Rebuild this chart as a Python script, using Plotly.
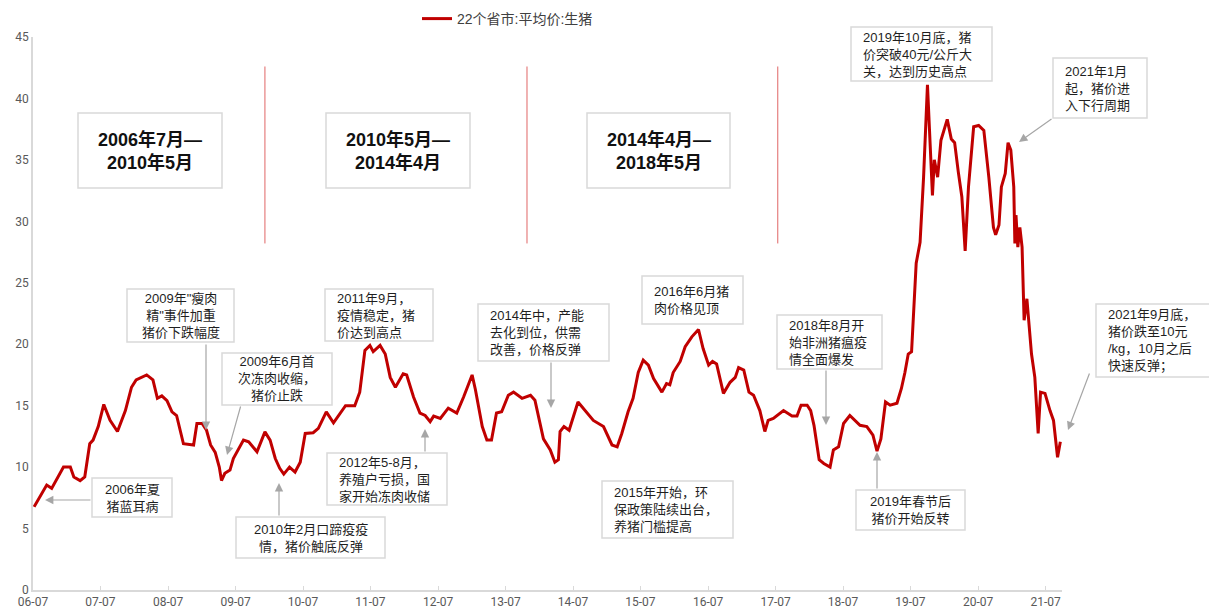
import plotly.graph_objects as go

# 22个省市:平均价:生猪 (元/公斤)
dates = [
    "2006-07-07", "2006-09-13", "2006-10-10", "2006-11-07", "2006-12-13", "2007-01-19", "2007-02-07",
    "2007-03-13", "2007-04-07", "2007-05-04", "2007-05-22", "2007-06-19", "2007-07-19", "2007-08-22",
    "2007-10-01", "2007-11-13", "2007-12-16", "2008-01-10", "2008-03-07", "2008-04-10", "2008-05-04",
    "2008-05-28", "2008-06-25", "2008-07-22", "2008-08-16", "2008-09-22", "2008-10-28", "2008-11-16",
    "2008-12-04", "2009-01-01", "2009-01-25", "2009-02-16", "2009-03-13", "2009-04-04", "2009-04-16",
    "2009-05-04", "2009-06-01", "2009-06-19", "2009-08-13", "2009-09-10", "2009-10-25", "2009-12-07",
    "2010-01-04", "2010-02-01", "2010-02-25", "2010-03-19", "2010-04-19", "2010-05-19", "2010-06-16",
    "2010-07-13", "2010-08-25", "2010-09-22", "2010-11-04", "2010-12-13", "2011-02-16", "2011-04-07",
    "2011-05-04", "2011-06-01", "2011-06-28", "2011-07-16", "2011-08-22", "2011-09-19", "2011-10-16",
    "2011-11-13", "2011-12-25", "2012-01-13", "2012-02-19", "2012-03-25", "2012-04-22", "2012-05-19",
    "2012-06-07", "2012-07-13", "2012-08-25", "2012-10-10", "2012-11-16", "2012-12-13", "2013-01-01",
    "2013-01-19", "2013-02-25", "2013-03-22", "2013-04-16", "2013-05-13", "2013-06-10", "2013-07-16",
    "2013-08-13", "2013-09-28", "2013-11-13", "2013-12-07", "2013-12-22", "2014-01-22", "2014-02-28",
    "2014-03-25", "2014-04-13", "2014-04-22", "2014-05-13", "2014-06-10", "2014-07-28", "2014-09-04",
    "2014-10-19", "2014-12-13", "2015-01-28", "2015-02-25", "2015-03-22", "2015-04-25", "2015-05-22",
    "2015-06-19", "2015-07-16", "2015-08-13", "2015-09-10", "2015-10-25", "2015-11-19", "2015-12-07",
    "2015-12-25", "2016-02-01", "2016-02-28", "2016-04-04", "2016-05-10", "2016-06-04", "2016-07-04",
    "2016-07-25", "2016-08-16", "2016-09-22", "2016-10-28", "2016-11-25", "2016-12-13", "2017-01-10",
    "2017-02-07", "2017-03-04", "2017-04-07", "2017-05-04", "2017-05-22", "2017-06-19", "2017-08-13",
    "2017-09-28", "2017-10-25", "2017-11-16", "2017-12-19", "2018-01-07", "2018-01-25", "2018-02-22",
    "2018-03-19", "2018-04-22", "2018-05-10", "2018-06-07", "2018-07-04", "2018-08-07", "2018-10-01",
    "2018-11-07", "2018-12-10", "2019-01-01", "2019-01-22", "2019-02-16", "2019-03-13", "2019-04-19",
    "2019-05-13", "2019-06-01", "2019-06-19", "2019-07-07", "2019-08-01", "2019-08-22", "2019-09-10",
    "2019-10-01", "2019-10-16", "2019-10-28", "2019-11-07", "2019-11-25", "2019-12-13", "2020-01-16",
    "2020-02-07", "2020-02-25", "2020-03-16", "2020-04-04", "2020-04-22", "2020-05-10", "2020-06-07",
    "2020-07-04", "2020-08-01", "2020-08-28", "2020-09-22", "2020-10-04", "2020-10-22", "2020-11-04",
    "2020-11-25", "2020-12-10", "2020-12-25", "2021-01-10", "2021-01-16", "2021-01-22", "2021-02-01",
    "2021-02-12", "2021-02-24", "2021-03-04", "2021-03-07", "2021-03-22", "2021-04-16", "2021-05-04",
    "2021-05-22", "2021-06-04", "2021-06-28", "2021-07-25", "2021-08-13", "2021-09-04", "2021-09-19",
]
prices = [
    6.77, 8.54, 8.27, 9.08, 10.0, 10.0, 9.2,
    8.9, 9.2, 11.9, 12.2, 13.3, 15.1, 13.8,
    12.9, 14.6, 16.5, 17.1, 17.5, 17.1, 15.6,
    15.8, 15.4, 14.5, 14.2, 11.9, 11.8, 11.8,
    13.55, 13.55, 13.0, 11.8, 11.2, 10.0, 8.9,
    9.5, 9.76, 10.7, 12.2, 12.06, 11.25, 12.87,
    12.2, 10.7, 9.9, 9.43, 10.0, 9.6, 10.4,
    12.74, 12.8, 13.15, 14.5, 13.6, 15.0, 15.0,
    16.1, 19.5, 19.9, 19.4, 19.9, 19.2, 17.3,
    16.5, 17.6, 17.5, 15.7, 14.4, 14.2, 13.7,
    14.15, 13.96, 14.8, 14.4, 15.7, 16.7, 17.5,
    16.3, 13.3, 12.2, 12.2, 14.4, 14.5, 15.85,
    16.1, 15.6, 15.85, 15.45, 14.4, 12.3, 11.4,
    10.4, 10.6, 12.9, 13.3, 13.0, 15.3, 14.6,
    13.8, 13.3, 11.8, 11.65, 12.74, 14.5, 15.6,
    17.7, 18.7, 18.3, 17.2, 16.1, 16.8, 16.7,
    17.7, 18.6, 19.8, 20.6, 21.2, 19.65, 18.3,
    18.6, 18.4, 16.0, 16.9, 17.3, 18.1, 17.9,
    16.1, 15.85, 14.6, 12.9, 13.8, 13.96, 14.6,
    14.15, 14.15, 15.04, 15.04, 14.6, 13.4, 10.6,
    10.3, 10.0, 11.4, 11.65, 13.55, 14.2, 13.4,
    13.3, 12.6, 11.3, 12.3, 15.3, 15.04, 15.2,
    16.4, 17.7, 19.2, 19.4, 26.6, 28.3, 33.6,
    41.1, 36.3, 32.1, 35.0, 33.6, 36.6, 38.3,
    36.7, 36.4, 34.0, 32.0, 27.6, 32.8, 37.7,
    37.8, 37.4, 33.6, 29.5, 28.9, 29.7, 32.8,
    33.9, 36.4, 35.8, 32.8, 28.2, 30.5, 27.9,
    29.5, 27.9, 23.8, 21.95, 23.7, 19.2, 17.3,
    12.74, 16.1, 16.0, 14.6, 13.8, 10.8, 12.06,
]

period_texts = ["2006年7月—<br>2010年5月", "2010年5月—<br>2014年4月", "2014年4月—<br>2018年5月"]
divider_dates = ["2009-12-07", "2013-10-25", "2017-07-13"]

FONT = "Liberation Sans, Noto Sans CJK SC"

fig = go.Figure()
fig.add_trace(go.Scatter(
    x=dates, y=prices, mode="lines", name="22个省市:平均价:生猪",
    line=dict(color="#C00000", width=3),
))

# page has an 8px body margin, so the figure is 8px smaller and everything sits 8px up/left
OFF = 8

# plot area in page pixels: x 33..1062, y 37..590
def px(x):
    return (x - 33) / 1029

def py(y):
    return (590 - y) / 553

annotations = []
shapes = []

def add_box(l, t, r, b):
    shapes.append(dict(type="rect", xref="paper", yref="paper",
                       x0=px(l), x1=px(r), y0=py(b), y1=py(t),
                       line=dict(color="#D9D9D9", width=1.5), fillcolor="white", layer="above"))

# period boxes
for txt, (l, r) in zip(period_texts, [(78, 222), (326, 470), (587, 730)]):
    add_box(l, 113, r, 188)
    annotations.append(dict(
        text="<b>" + txt + "</b>", x=px((l + r) / 2), y=py(150.5), xref="paper", yref="paper",
        showarrow=False, xanchor="center", yanchor="middle", align="center",
        font=dict(family=FONT, size=18, color="#111111"),
    ))

# comment boxes: text, left, top, right, bottom, align
boxes = [
    ("2009年\"瘦肉<br>精\"事件加重<br>猪价下跌幅度", 127, 289, 234, 342, "center"),
    ("2011年9月，<br>疫情稳定，猪<br>价达到高点", 325, 289, 433, 341, "left"),
    ("2009年6月首<br>次冻肉收缩，<br>猪价止跌", 222, 353, 332, 405, "center"),
    ("2006年夏<br>猪蓝耳病", 92, 478, 172, 517, "center"),
    ("2010年2月口蹄疫疫<br>情，猪价触底反弹", 236, 517, 385, 558, "center"),
    ("2012年5-8月，<br>养殖户亏损，国<br>家开始冻肉收储", 327, 453, 447, 505, "left"),
    ("2014年中，产能<br>去化到位，供需<br>改善，价格反弹", 478, 304, 609, 361, "left"),
    ("2016年6月猪<br>肉价格见顶", 642, 276, 743, 324, "left"),
    ("2015年开始，环<br>保政策陆续出台，<br>养猪门槛提高", 602, 481, 733, 538, "left"),
    ("2018年8月开<br>始非洲猪瘟疫<br>情全面爆发", 777, 315, 882, 369, "left"),
    ("2019年春节后<br>猪价开始反转", 856, 490, 965, 530, "center"),
    ("2019年10月底，猪<br>价突破40元/公斤大<br>关，达到历史高点", 851, 27, 992, 81, "left"),
    ("2021年1月<br>起，猪价进<br>入下行周期", 1053, 58, 1147, 118, "left"),
    ("2021年9月底，<br>猪价跌至10元<br>/kg，10月之后<br>快速反弹；", 1096, 304, 1215, 377, "left"),
]
for txt, l, t, r, b, al in boxes:
    add_box(l, t, r, b)
    if al == "left":
        xx, xa = px(l + 10), "left"
    else:
        xx, xa = px((l + r) / 2), "center"
    annotations.append(dict(
        text=txt, x=xx, y=py((t + b) / 2), xref="paper", yref="paper",
        showarrow=False, xanchor=xa, yanchor="middle", align=al,
        font=dict(family=FONT, size=13, color="#1F1F1F"),
    ))

# arrows: tail (x, y) -> head (x, y), pixels
arrows = [
    ((206, 343), (206, 430)),
    ((241, 405), (227, 455)),
    ((92, 500), (45, 500)),
    ((279, 517), (279, 483)),
    ((425, 453), (425, 429)),
    ((551, 361), (551, 408)),
    ((826, 369), (826, 425)),
    ((877, 490), (877, 452)),
    ((1053, 118), (1019, 142)),
    ((1090, 372), (1068, 430)),
]
for (tx, ty), (hx, hy) in arrows:
    annotations.append(dict(
        text="", x=px(hx), y=py(hy), xref="paper", yref="paper",
        ax=tx - hx, ay=ty - hy, showarrow=True,
        arrowhead=2, arrowsize=1.4, arrowwidth=1.2, arrowcolor="#A6A6A6", standoff=0,
    ))

for d in divider_dates:
    shapes.append(dict(type="line", x0=d, x1=d, y0=28.2, y1=42.6, xref="x", yref="y",
                       line=dict(color="#E06666", width=1)))

W, H = 1217 - OFF, 607 - OFF
fig.update_layout(
    width=W, height=H,
    margin=dict(l=33 - OFF, r=W - (1062 - OFF), t=37 - OFF, b=H - (590 - OFF), autoexpand=False),
    plot_bgcolor="white", paper_bgcolor="white",
    annotations=annotations, shapes=shapes,
    showlegend=True,
    legend=dict(orientation="h", x=px(417), xanchor="left",
                yref="container", y=1 - (19 - OFF) / H, yanchor="middle",
                font=dict(family=FONT, size=14, color="#404040"), itemwidth=30,
                bgcolor="rgba(0,0,0,0)"),
)
fig.update_xaxes(
    type="date", range=["2006-07-01", "2021-09-28"], automargin=False,
    tick0="2006-07-01", dtick="M12", tickformat="%y-%m",
    showgrid=False, showline=True, linecolor="#D9D9D9", linewidth=1.5,
    ticks="inside", ticklen=4, tickcolor="#D9D9D9",
    tickfont=dict(family="Liberation Sans Narrow, Roboto", size=12, color="#595959"),
)
fig.update_yaxes(
    range=[0, 45], dtick=5, showgrid=False, zeroline=False, automargin=False,
    showline=True, linecolor="#D9D9D9", linewidth=1.5, ticks="",
    tickfont=dict(family="Liberation Sans Narrow, Roboto", size=12, color="#595959"),
)

fig.write_html("out.html")
